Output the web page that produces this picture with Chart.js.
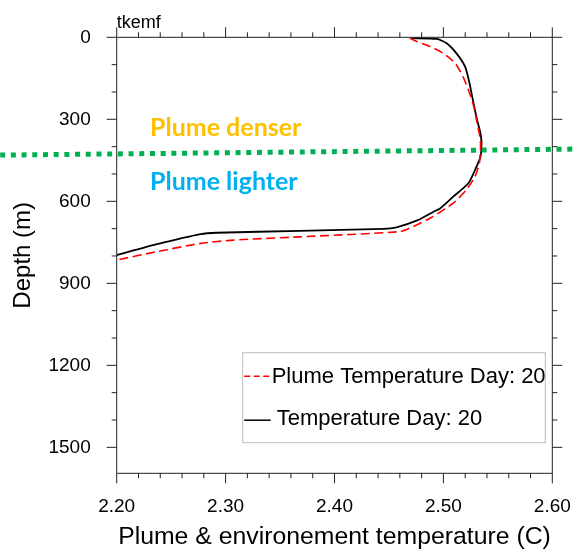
<!DOCTYPE html>
<html>
<head>
<meta charset="utf-8">
<script src="https://cdn.jsdelivr.net/npm/chart.js@4/dist/chart.umd.min.js"></script>
<style>
  html, body { margin: 0; padding: 0; background: #fff; }
</style>
</head>
<body>
<canvas id="profile" width="574" height="552"></canvas>
<script>
// environment temperature profile (C) vs depth (m)
const envTemp  = [2.471, 2.494, 2.503, 2.512, 2.520, 2.524, 2.527, 2.531, 2.534, 2.535, 2.534, 2.529, 2.523, 2.509, 2.497, 2.491, 2.476, 2.457, 2.445, 2.368, 2.292, 2.277, 2.237, 2.200];
const envDepth = [3, 6, 22, 59, 108, 168, 229, 303, 351, 388, 437, 486, 534, 583, 626, 638, 670, 695, 701, 708, 715, 720, 757, 797];

// plume temperature profile (C) vs depth (m)
const plumeTemp  = [2.469, 2.476, 2.488, 2.500, 2.511, 2.518, 2.523, 2.528, 2.531, 2.534, 2.534, 2.533, 2.529, 2.521, 2.509, 2.489, 2.472, 2.460, 2.368, 2.307, 2.277, 2.237, 2.200];
const plumeDepth = [3, 16, 34, 59, 95, 144, 193, 254, 315, 376, 412, 461, 510, 559, 607, 659, 693, 711, 730, 742, 754, 784, 815];

// neutral buoyancy marker, runs across the whole figure
const markTemp  = [2.093, 2.620];
const markDepth = [431, 409];

const xTicks = [2.2, 2.3, 2.4, 2.5, 2.6];
const yTicks = [0, 300, 600, 900, 1200, 1500];
const xMinor = [2.22, 2.24, 2.26, 2.28, 2.32, 2.34, 2.36, 2.38, 2.42, 2.44, 2.46, 2.48, 2.52, 2.54, 2.56, 2.58];
const yMinor = [100, 200, 400, 500, 700, 800, 1000, 1100, 1300, 1400];

const legendLabels = ['Plume Temperature Day: 20', 'Temperature Day: 20'];

const toPoints = (xs, ys) => xs.map((x, i) => ({ x: x, y: ys[i] }));

const SANS = '"Liberation Sans", Arial, sans-serif';

// frame, tick marks, legend and text labels
const decorations = {
  id: 'decorations',
  afterDatasetsDraw(chart) {
    const { ctx, chartArea: a, scales: { x, y } } = chart;
    ctx.save();
    ctx.strokeStyle = '#222';
    ctx.lineWidth = 1;
    ctx.strokeRect(a.left, a.top, a.right - a.left, a.bottom - a.top);

    ctx.beginPath();
    const tickX = (v, len) => {
      const px = x.getPixelForValue(v);
      ctx.moveTo(px, a.bottom); ctx.lineTo(px, a.bottom + len);
      ctx.moveTo(px, a.top); ctx.lineTo(px, a.top - len);
    };
    const tickY = (v, len) => {
      const py = y.getPixelForValue(v);
      ctx.moveTo(a.left, py); ctx.lineTo(a.left - len, py);
      ctx.moveTo(a.right, py); ctx.lineTo(a.right + len, py);
    };
    xTicks.forEach(v => tickX(v, 10));
    xMinor.forEach(v => tickX(v, 5));
    yTicks.forEach(v => tickY(v, 10));
    yMinor.forEach(v => tickY(v, 5));
    ctx.stroke();

    // legend box
    const bx = a.right - 309.6, by = a.bottom - 120.6, bw = 302.6, bh = 90;
    ctx.strokeStyle = '#bdbdbd';
    ctx.strokeRect(bx, by, bw, bh);
    ctx.font = '22px ' + SANS;
    ctx.fillStyle = '#000';
    ctx.textBaseline = 'alphabetic';
    ctx.textAlign = 'left';

    ctx.beginPath();
    ctx.strokeStyle = '#ff0000';
    ctx.lineWidth = 1.5;
    ctx.setLineDash([6, 3.5]);
    ctx.moveTo(bx + 1.5, by + 23.5); ctx.lineTo(bx + 29, by + 23.5);
    ctx.stroke();
    ctx.fillText(legendLabels[0], bx + 29, by + 30.6);

    ctx.beginPath();
    ctx.strokeStyle = '#000';
    ctx.setLineDash([]);
    ctx.moveTo(bx + 1.5, by + 67.5); ctx.lineTo(bx + 28, by + 67.5);
    ctx.stroke();
    ctx.fillText(legendLabels[1], bx + 34, by + 72.3);

    // corner string
    ctx.font = '18px ' + SANS;
    ctx.fillText('tkemf', a.left, 27.5);

    ctx.font = 'bold 25px Lato, "Open Sans", sans-serif';
    ctx.fillStyle = '#ffc000';
    ctx.fillText('Plume denser', a.left + 33.3, 135.5);
    ctx.fillStyle = '#00b0f0';
    ctx.fillText('Plume lighter', a.left + 33.3, 190);
    ctx.restore();
  }
};

new Chart(document.getElementById('profile'), {
  type: 'line',
  data: {
    datasets: [
      {
        data: toPoints(markTemp, markDepth),
        borderColor: '#00b050',
        borderWidth: 5,
        borderDash: [5, 5.7],
        borderCapStyle: 'butt',
        pointRadius: 0,
        clip: false,
        order: 0
      },
      {
        label: legendLabels[0],
        data: toPoints(plumeTemp, plumeDepth),
        borderColor: '#ff0000',
        borderWidth: 1.6,
        borderDash: [9, 4.5],
        pointRadius: 0,
        tension: 0.2,
        order: 1
      },
      {
        label: legendLabels[1],
        data: toPoints(envTemp, envDepth),
        borderColor: '#000',
        borderWidth: 1.8,
        pointRadius: 0,
        tension: 0.2,
        order: 2
      }
    ]
  },
  options: {
    responsive: false,
    animation: false,
    layout: { padding: { top: 37.3, right: 21.7, bottom: 0, left: 0 } },
    plugins: { legend: { display: false }, tooltip: { enabled: false } },
    scales: {
      x: {
        type: 'linear',
        min: 2.2,
        max: 2.6,
        afterBuildTicks: s => { s.ticks = xTicks.map(v => ({ value: v })); },
        afterFit: s => {
          s.height = 78.7;
          s.paddingLeft = 0;
          s.paddingRight = 0;
        },
        grid: { display: false, drawTicks: false },
        border: { display: false },
        ticks: {
          padding: 22,
          color: '#000',
          font: { family: SANS, size: 19 },
          callback: v => v.toFixed(2)
        },
        title: {
          display: true,
          text: 'Plume & environement temperature (C)',
          color: '#000',
          font: { family: SANS, size: 24.8, lineHeight: 1.2 },
          padding: { top: 0, bottom: 0 }
        }
      },
      y: {
        type: 'linear',
        reverse: true,
        min: 0,
        max: 1595,
        afterBuildTicks: s => { s.ticks = yTicks.map(v => ({ value: v })); },
        afterFit: s => {
          s.width = 116.7;
          s.paddingTop = 0;
          s.paddingBottom = 0;
        },
        grid: { display: false, drawTicks: false },
        border: { display: false },
        ticks: {
          padding: 26,
          color: '#000',
          font: { family: SANS, size: 19 },
          callback: v => String(v)
        },
        title: {
          display: true,
          text: 'Depth (m)',
          color: '#000',
          font: { family: SANS, size: 24, lineHeight: 1.2 },
          padding: { top: 9, bottom: 0 }
        }
      }
    }
  },
  plugins: [decorations]
});
</script>
</body>
</html>
